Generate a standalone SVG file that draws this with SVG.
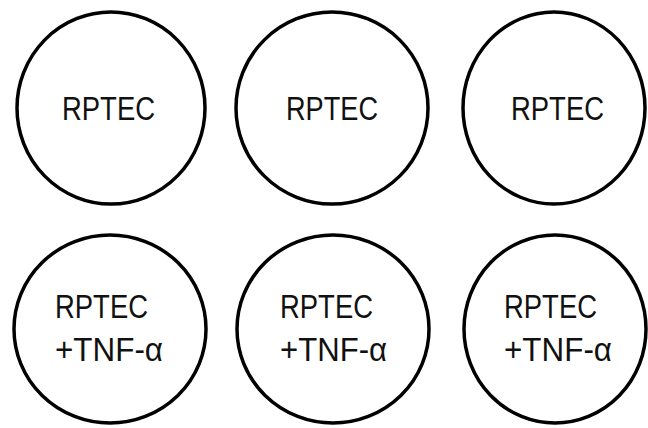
<svg xmlns="http://www.w3.org/2000/svg" width="648" height="428" viewBox="0 0 648 428">
<style>
.c{fill:#fff;stroke:#000;stroke-width:3.5}
.t{font-family:"Liberation Sans",Arial,sans-serif;font-size:33px;fill:#111}
</style>
<rect width="648" height="428" fill="#fff"/>
<g id="n1"><ellipse class="c" cx="111" cy="108" rx="94" ry="96"/><text class="t" x="62" y="120" textLength="93" lengthAdjust="spacingAndGlyphs">RPTEC</text></g>
<g id="n2"><ellipse class="c" cx="332" cy="108" rx="96" ry="96"/><text class="t" x="286" y="120" textLength="92" lengthAdjust="spacingAndGlyphs">RPTEC</text></g>
<g id="n3"><ellipse class="c" cx="554" cy="108" rx="91" ry="96"/><text class="t" x="511" y="120" textLength="93" lengthAdjust="spacingAndGlyphs">RPTEC</text></g>
<g id="n4"><ellipse class="c" cx="110" cy="329" rx="96" ry="94"/><text class="t" x="55" y="318" textLength="93" lengthAdjust="spacingAndGlyphs">RPTEC</text><text class="t" x="55" y="361" textLength="108" lengthAdjust="spacingAndGlyphs">+TNF-α</text></g>
<g id="n5"><ellipse class="c" cx="333" cy="329" rx="96" ry="94"/><text class="t" x="280" y="318" textLength="93" lengthAdjust="spacingAndGlyphs">RPTEC</text><text class="t" x="280" y="361" textLength="107" lengthAdjust="spacingAndGlyphs">+TNF-α</text></g>
<g id="n6"><ellipse class="c" cx="555" cy="329" rx="91" ry="94"/><text class="t" x="504" y="318" textLength="93" lengthAdjust="spacingAndGlyphs">RPTEC</text><text class="t" x="504" y="361" textLength="108" lengthAdjust="spacingAndGlyphs">+TNF-α</text></g>
<g id="connectors"/>
</svg>
